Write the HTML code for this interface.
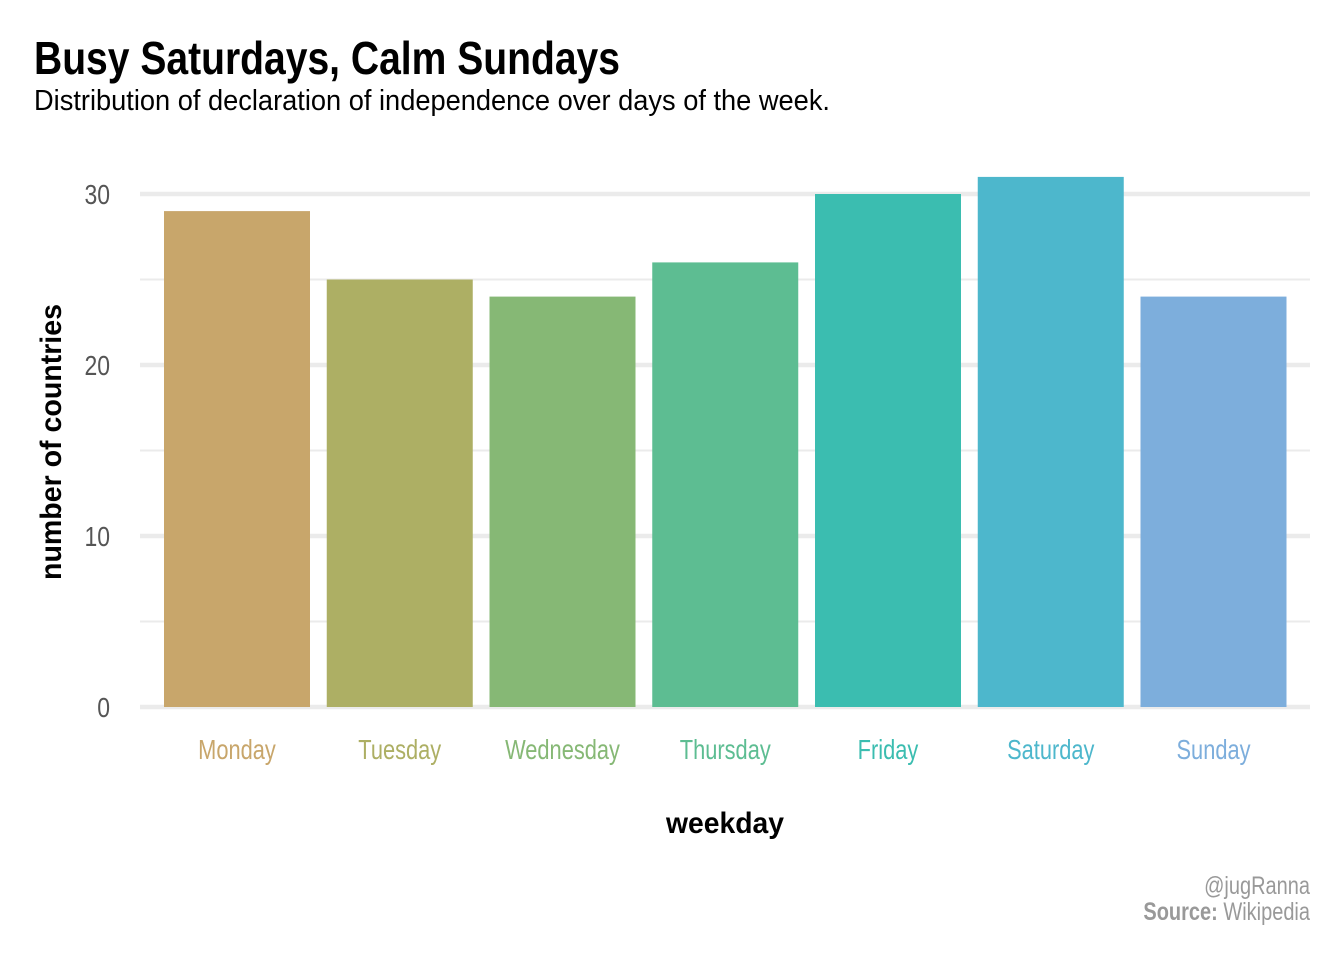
<!DOCTYPE html>
<html><head><meta charset="utf-8"><style>
body{margin:0;background:#fff;width:1344px;height:960px;overflow:hidden;font-family:"Liberation Sans Narrow","Liberation Sans",sans-serif;}
svg text{font-family:"Liberation Sans Narrow","Liberation Sans",sans-serif;}
</style></head><body>
<svg id="chart" width="1344" height="960" xmlns="http://www.w3.org/2000/svg">
<text x="34" y="74" font-size="46" font-weight="bold" fill="#000" textLength="586" lengthAdjust="spacingAndGlyphs">Busy Saturdays, Calm Sundays</text>
<text x="34" y="110" font-size="29" fill="#000" textLength="796" lengthAdjust="spacingAndGlyphs">Distribution of declaration of independence over days of the week.</text>
<g id="grid"></g><g id="bars"></g><g id="labels"></g>
<text transform="translate(61,442) rotate(-90)" text-anchor="middle" font-size="30" font-weight="bold" fill="#000" textLength="276" lengthAdjust="spacingAndGlyphs">number of countries</text>
<text x="725" y="833" text-anchor="middle" font-size="30" font-weight="bold" fill="#000" textLength="118" lengthAdjust="spacingAndGlyphs">weekday</text>
<text transform="translate(1310,894) scale(0.8,1)" text-anchor="end" font-size="25" fill="#999">@jugRanna</text>
<text transform="translate(1310,920) scale(0.8,1)" text-anchor="end" font-size="25" fill="#999"><tspan font-weight="bold">Source:</tspan> Wikipedia</text>
</svg>
<script>
const categories=["Monday","Tuesday","Wednesday","Thursday","Friday","Saturday","Sunday"];
const values=[29,25,24,26,30,31,24];
const colors=["#c8a66b","#adaf64","#86b875","#5dbd92","#3bbdb0","#4db7cc","#7daedc"];
const yTicks=[0,10,20,30];
const yMinor=[5,15,25];
const NS="http://www.w3.org/2000/svg";
const y=v=>707-v*17.1;
const xc=i=>237+i*162.75;
const bw=146;
const grid=document.getElementById('grid'),bars=document.getElementById('bars'),labels=document.getElementById('labels');
function mk(t,a,p){const e=document.createElementNS(NS,t);for(const k in a)e.setAttribute(k,a[k]);p.appendChild(e);return e;}
yMinor.forEach(v=>{const l=mk('line',{x1:140,x2:1310,y1:y(v),y2:y(v),stroke:'#ebebeb','stroke-width':2},grid);

});
yTicks.forEach(v=>{const l=mk('line',{x1:140,x2:1310,y1:y(v),y2:y(v),stroke:'#ebebeb','stroke-width':4.5},grid);


const t=mk('text',{transform:`translate(110,${y(v)+10}) scale(0.82,1)`,'text-anchor':'end','font-size':28,fill:'#555'},labels);t.textContent=v;

});
categories.forEach((c,i)=>{const r=mk('rect',{x:xc(i)-bw/2,y:y(values[i]),width:bw,height:y(0)-y(values[i]),fill:colors[i]},bars);


const t=mk('text',{transform:`translate(${xc(i)},759) scale(0.78,1)`,'text-anchor':'middle','font-size':28,fill:colors[i]},labels);t.textContent=c;

});
</script>
</body></html>
